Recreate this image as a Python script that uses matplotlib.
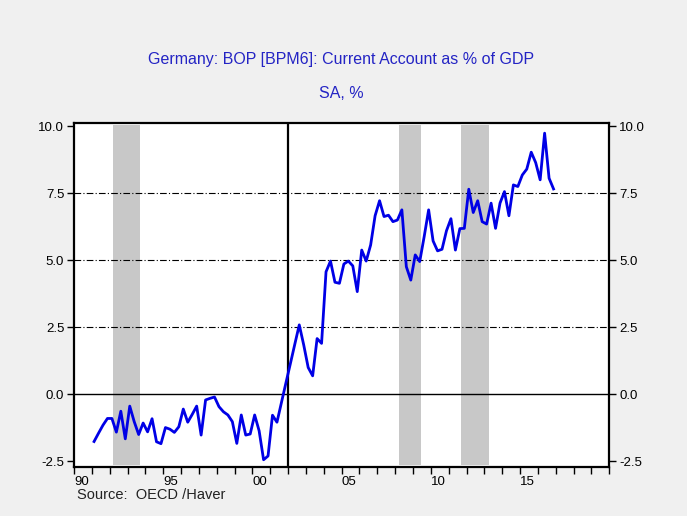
import numpy as np
import pandas as pd
import matplotlib
matplotlib.use('Agg')
import matplotlib.pyplot as plt

plt.rcParams['font.family'] = ['Liberation Sans', 'DejaVu Sans']
plt.rcParams['axes.unicode_minus'] = False

# quarterly current account, % of GDP, 1991Q1 .. 2016Q4
quarters = pd.period_range('1991Q1', '2016Q4', freq='Q')
ca_pct_gdp = [
    -1.76, -1.45, -1.15, -0.90,   # 1991
    -0.90, -1.41, -0.63, -1.66,   # 1992
    -0.44, -1.02, -1.50, -1.07,   # 1993
    -1.40, -0.91, -1.77, -1.84,   # 1994
    -1.24, -1.30, -1.42, -1.21,   # 1995
    -0.55, -1.04, -0.75, -0.44,   # 1996
    -1.52, -0.21, -0.15, -0.10,   # 1997
    -0.46, -0.65, -0.77, -1.02,   # 1998
    -1.83, -0.77, -1.52, -1.48,   # 1999
    -0.77, -1.36, -2.44, -2.30,   # 2000
    -0.78, -1.04, -0.31, 0.42,    # 2001
    1.14, 1.87, 2.59, 1.84,       # 2002
    1.00, 0.69, 2.08, 1.90,       # 2003
    4.57, 4.97, 4.18, 4.14,       # 2004
    4.86, 4.97, 4.79, 3.83,       # 2005
    5.38, 4.97, 5.57, 6.66,       # 2006
    7.22, 6.63, 6.68, 6.44,       # 2007
    6.50, 6.88, 4.76, 4.26,       # 2008
    5.20, 4.95, 5.88, 6.88,       # 2009
    5.72, 5.35, 5.41, 6.10,       # 2010
    6.55, 5.38, 6.18, 6.19,       # 2011
    7.65, 6.78, 7.22, 6.44,       # 2012
    6.35, 7.13, 6.19, 7.13,       # 2013
    7.56, 6.66, 7.81, 7.75,       # 2014
    8.18, 8.40, 9.03, 8.64,       # 2015
    8.00, 9.74, 8.06, 7.66,       # 2016
]

recessions = [(1992.17, 1993.70), (2008.19, 2009.44), (2011.67, 2013.26)]
marker_year = 2002.0

ytick_vals = [-2.5, 0.0, 2.5, 5.0, 7.5, 10.0]
ytick_labels = ['-2.5', '0.0', '2.5', '5.0', '7.5', '10.0']
label_years = [1990, 1995, 2000, 2005, 2010, 2015]

bg = '#f0f0f0'
title_col = '#2424c4'

x = np.array([p.year + (p.quarter - 1) / 4 + 0.125 for p in quarters])

fig = plt.figure(figsize=(6.87, 5.16), dpi=100, facecolor=bg)
ax = fig.add_axes([0.1077, 0.0955, 0.7792, 0.6667])
ax.set_facecolor('white')

for start, end in recessions:
    ax.axvspan(start, end, ymin=0.006, ymax=0.993, color='#c8c8c8', lw=0, zorder=1)

for v in [2.5, 5.0, 7.5]:
    ax.axhline(v, color='black', lw=0.8, ls=(0, (6, 2, 1, 2)), zorder=2)
ax.axhline(0.0, color='black', lw=1.0, zorder=2)
ax.axvline(marker_year, color='black', lw=1.6, zorder=2)

ax.plot(x, ca_pct_gdp, color='#0000e6', lw=2.0, zorder=3)

ax.set_xlim(1990, 2020)
ax.set_ylim(-2.70, 10.13)

ax.set_yticks(ytick_vals)
ax.set_yticklabels(ytick_labels)
ax.set_xticks(np.arange(1990, 2021))
ax.set_xticklabels([str(y)[2:] if y in label_years else '' for y in range(1990, 2021)])
for lab in ax.get_xticklabels():
    lab.set_horizontalalignment('left')

ax.tick_params(axis='both', direction='out', length=5, width=1, labelsize=9.5,
               colors='black', pad=1.5)
ax.tick_params(axis='y', right=True, labelright=True, pad=2)

for s in ax.spines.values():
    s.set_linewidth(1.6)

fig.text(0.497, 0.884, 'Germany: BOP [BPM6]: Current Account as % of GDP',
         ha='center', va='center', fontsize=11.5, color=title_col)
fig.text(0.497, 0.819, 'SA, %', ha='center', va='center', fontsize=11.5, color=title_col)
fig.text(0.112, 0.040, 'Source:  OECD /Haver', ha='left', va='center',
         fontsize=10.5, color='#222222')

fig.savefig('out.png', dpi=100, facecolor=bg)
